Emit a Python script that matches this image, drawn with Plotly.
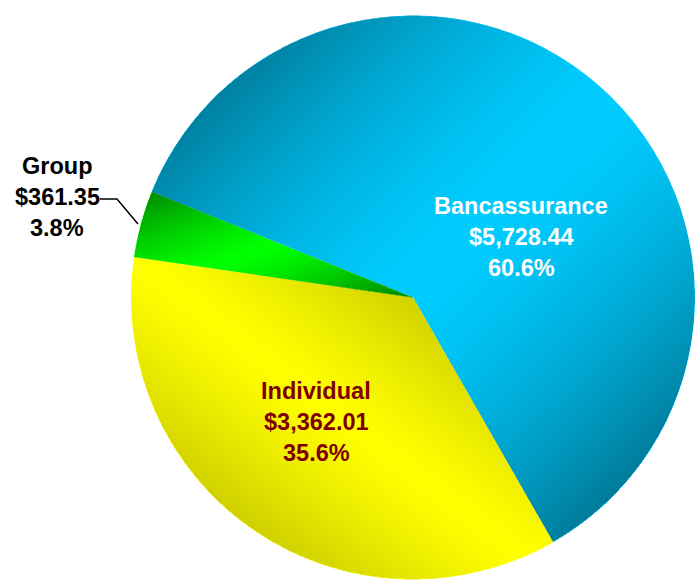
import base64
import struct
import zlib

import numpy as np
import plotly.graph_objects as go

# ---------------- data ----------------
categories = ["Bancassurance", "Individual", "Group"]
values = [5728.44, 3362.01, 361.35]
base_colors = ["#00CCFF", "#FFFF00", "#00FF00"]
label_colors = ["#FFFFFF", "#800000", "#000000"]

# ---------------- layout constants ----------------
W, H = 695, 581
CX, CY, R = 413.0, 297.5, 282.0          # pie centre / radius in pixels
ROTATION = -68.0                          # degrees clockwise from 12 o'clock
FONT = "Liberation Sans, Arial, sans-serif"
FSIZE = 23.5
LINE_GAP = 31
label_pos = [(521, 206), (316, 391), (57, 166)]   # centre of first text line (px)
shade_style = ["up", "down", "up"]
shade_k = [0.6, 0.38, 0.5]
shade_p = [1.5, 1.2, 1.3]

total = sum(values)
percents = [v / total * 100 for v in values]


def px_x(x):
    return x / W


def px_y(y):
    return 1 - y / H


# ---------------- pie ----------------
fig = go.Figure(
    go.Pie(
        labels=categories,
        values=values,
        sort=False,
        direction="clockwise",
        rotation=ROTATION,
        marker=dict(colors=base_colors, line=dict(width=0)),
        textinfo="none",
        hoverinfo="label+value+percent",
        showlegend=False,
        domain=dict(
            x=[px_x(CX - R), 1.0],
            y=[px_y(CY + R), px_y(CY - R)],
        ),
    )
)

# ---------------- shading overlay (gradient effect) ----------------
size = int(2 * R)
jj, ii = np.meshgrid(np.arange(size), np.arange(size))
xs = CX - R + jj + 0.5
ys = CY - R + ii + 0.5
dx = xs - CX
dy = ys - CY
rr = np.hypot(dx, dy)
theta = np.degrees(np.arctan2(dx, -dy))            # clockwise from top
rel = np.mod(theta - ROTATION, 360.0)

angles = [v / total * 360.0 for v in values]
starts = np.cumsum([0] + angles[:-1])
alpha = np.zeros((size, size))

for s, a, style, k, p in zip(starts, angles, shade_style, shade_k, shade_p):
    mask = (rel >= s) & (rel < s + a) & (rr <= R - 0.4)
    t0 = ROTATION + s
    t1 = ROTATION + s + a
    pts_t = list(np.linspace(t0, t1, 400))
    bx = [CX] + [CX + R * np.sin(np.radians(t)) for t in pts_t]
    by = [CY] + [CY - R * np.cos(np.radians(t)) for t in pts_t]
    x0, x1 = min(bx), min(max(bx), W)
    y0, y1 = min(by), max(by)
    u = (xs - x0) / (x1 - x0)
    v = (ys - y0) / (y1 - y0)
    if style == "up":
        t = (u + v) / 2
    else:
        t = (u + 1 - v) / 2
    d = np.clip(np.abs(2 * t - 1), 0, 1) ** p
    alpha = np.where(mask, k * d, alpha)

rgba = np.zeros((size, size, 4), dtype=np.uint8)
rgba[..., 3] = np.clip(alpha * 255, 0, 255).astype(np.uint8)


def png_data_uri(arr):
    h, w, _ = arr.shape
    raw = b"".join(b"\x00" + arr[i].tobytes() for i in range(h))

    def chunk(tag, data):
        c = struct.pack(">I", len(data)) + tag + data
        return c + struct.pack(">I", zlib.crc32(tag + data) & 0xFFFFFFFF)

    png = (
        b"\x89PNG\r\n\x1a\n"
        + chunk(b"IHDR", struct.pack(">IIBBBBB", w, h, 8, 6, 0, 0, 0))
        + chunk(b"IDAT", zlib.compress(raw, 9))
        + chunk(b"IEND", b"")
    )
    return "data:image/png;base64," + base64.b64encode(png).decode()


fig.add_layout_image(
    source=png_data_uri(rgba),
    xref="paper", yref="paper",
    x=px_x(CX - R), y=px_y(CY - R),
    sizex=size / W, sizey=size / H,
    xanchor="left", yanchor="top",
    sizing="stretch", layer="above",
)

# ---------------- labels ----------------
annotations = []
for cat, val, pct, col, (lx, ly) in zip(categories, values, percents, label_colors, label_pos):
    lines = [cat, f"${val:,.2f}", f"{pct:.1f}%"]
    for n, line in enumerate(lines):
        annotations.append(dict(
            text=f"<b>{line}</b>",
            x=px_x(lx), y=px_y(ly + n * LINE_GAP),
            xref="paper", yref="paper",
            xanchor="center", yanchor="middle",
            showarrow=False,
            font=dict(family=FONT, size=FSIZE, color=col),
        ))

# leader line for the small slice
leader = [(100, 199), (117, 199), (138, 224)]
path = "M " + " L ".join(f"{px_x(x)},{px_y(y)}" for x, y in leader)
fig.add_shape(type="path", path=path, xref="paper", yref="paper",
              line=dict(color="black", width=1.5))

fig.update_layout(
    width=W, height=H,
    margin=dict(l=0, r=0, t=0, b=0),
    paper_bgcolor="white",
    plot_bgcolor="white",
    annotations=annotations,
)

fig.write_html(
    "out.html",
    config={"displayModeBar": False},
    post_script="document.body.style.margin='0';document.body.style.overflow='hidden';",
)
